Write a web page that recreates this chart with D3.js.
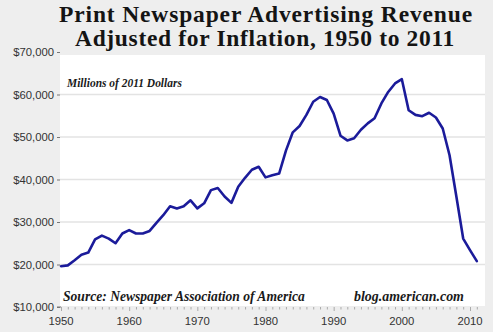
<!DOCTYPE html>
<html><head><meta charset="utf-8">
<script src="https://cdn.jsdelivr.net/npm/d3@7"></script>
<style>body{margin:0;background:#eeeeee;}svg{display:block;}</style>
</head><body>
<svg id="c" width="493" height="332"></svg>
<script>
const titleLines = ["Print Newspaper Advertising Revenue", "Adjusted for Inflation, 1950 to 2011"];
const subtitle = "Millions of 2011 Dollars";
const sourceText = "Source: Newspaper Association of America";
const creditText = "blog.american.com";
const years = d3.range(1950, 2012);
const revenue = [
 19600,19800,21000,22300,22800,25900,26800,26100,25000,27300,
 28100,27300,27300,27900,29800,31600,33700,33200,33700,35100,
 33200,34400,37500,38000,36000,34500,38300,40400,42300,43000,
 40500,41000,41400,46800,51100,52600,55200,58300,59400,58700,
 55500,50300,49200,49700,51700,53200,54400,57900,60600,62600,
 63600,56300,55200,54900,55700,54600,52000,45700,36000,26100,
 23400,20800];
const yTicks = [10000,20000,30000,40000,50000,60000,70000];
const xTickLabels = [1950,1960,1970,1980,1990,2000,2010];

const svg = d3.select("#c");
const x = d3.scaleLinear().domain([1950, 2010]).range([61, 470]);
const y = d3.scaleLinear().domain([10000, 70000]).range([307, 52]);

svg.append("rect").attr("width",493).attr("height",332).attr("fill","#eeeeee");
svg.append("rect").attr("x",60).attr("y",55).attr("width",425).attr("height",251).attr("fill","#ffffff");

svg.append("g").selectAll("line").data(yTicks.filter(d => d > 10000 && d < 70000)).join("line")
  .attr("x1",60).attr("x2",485).attr("y1",d=>y(d)).attr("y2",d=>y(d))
  .attr("stroke","#e3e3e3").attr("stroke-width",1.4);

const yAxis = d3.axisLeft(y).tickValues(yTicks).tickSize(3).tickPadding(3)
  .tickFormat(d => "$" + d3.format(",")(d));
const gy = svg.append("g").attr("transform","translate(60,0)").call(yAxis);
gy.select(".domain").remove();
gy.selectAll(".tick line").attr("stroke","#777");
gy.selectAll(".tick text").attr("fill","#333").style("font-family","'Liberation Sans', Arial, sans-serif").style("font-size","11.3px");

const xAxis = d3.axisBottom(x).tickValues(years).tickSize(0).tickFormat("");
const gx = svg.append("g").attr("transform","translate(0,307)").call(xAxis);
gx.select(".domain").remove();
gx.selectAll(".tick line").attr("y2", d => d % 10 === 0 ? 4 : 2.5).attr("stroke","#999").attr("stroke-width",0.8);
svg.append("line").attr("x1",57).attr("x2",61).attr("y1",307).attr("y2",307).attr("stroke","#777");
svg.append("g").selectAll("text").data(xTickLabels).join("text")
  .attr("x", d => x(d)).attr("y", 325).attr("text-anchor","middle")
  .attr("fill","#333").style("font-family","'Liberation Sans', Arial, sans-serif").style("font-size","11.3px")
  .text(d => d);

const line = d3.line().x((d,i)=>x(years[i])).y(d=>y(d));
svg.append("path").datum(revenue).attr("d", line).attr("fill","none")
  .attr("stroke","#1b1b9a").attr("stroke-width",2.6).attr("stroke-linejoin","round").attr("stroke-linecap","round");

function fit(sel, width, base) {
  sel.style("font-size", base + "px");
  const w = sel.node().getComputedTextLength();
  sel.style("font-size", (base * width / w).toFixed(2) + "px");
}
// fixed size, spread with letter-spacing to reach the target width
function spread(sel, width, size) {
  sel.style("font-size", size + "px").style("letter-spacing", "0px");
  const w = sel.node().getComputedTextLength();
  const n = sel.text().length;
  sel.style("letter-spacing", ((width - w) / n).toFixed(3) + "px");
}
const serif = "'Liberation Serif', Georgia, 'DejaVu Serif', serif";
const tl = [{t:titleLines[0], cx:266, y:21.5, w:414},{t:titleLines[1], cx:265, y:45.5, w:380}];
svg.append("g").selectAll("text").data(tl).join("text")
  .attr("x", d=>d.cx).attr("y", d=>d.y).attr("text-anchor","middle")
  .attr("fill","#141414").style("font-family", serif).style("font-weight","bold")
  .text(d=>d.t)
  .each(function(d){ spread(d3.select(this), d.w, 23.5); });

const sub = svg.append("text").attr("x",67).attr("y",87)
  .attr("fill","#1a1a1a").style("font-family",serif).style("font-weight","bold").style("font-style","italic")
  .text(subtitle);
fit(sub, 115, 10);
const src = svg.append("text").attr("x",63).attr("y",300.5)
  .attr("fill","#1a1a1a").style("font-family",serif).style("font-weight","bold").style("font-style","italic")
  .text(sourceText);
fit(src, 242, 11);
const cr = svg.append("text").attr("x",354).attr("y",300.5)
  .attr("fill","#1a1a1a").style("font-family",serif).style("font-weight","bold").style("font-style","italic")
  .text(creditText);
fit(cr, 110, 11);
</script>
</body></html>
